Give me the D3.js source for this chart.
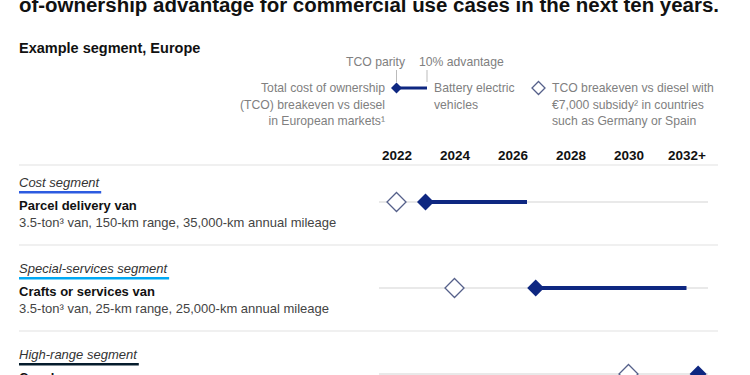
<!DOCTYPE html>
<html><head><meta charset="utf-8">
<script src="https://cdn.jsdelivr.net/npm/d3@7"></script>
<style>
html,body{margin:0;padding:0;background:#fff;}
svg{display:block;font-family:"Liberation Sans",Arial,sans-serif;}
</style></head>
<body>
<svg id="chart" width="750" height="375"></svg>
<script>
// ---- data ----
const tickYears = [2022, 2024, 2026, 2028, 2030, 2032];
const tickLabels = ["2022", "2024", "2026", "2028", "2030", "2032+"];
const segments = ["Cost segment", "Special-services segment", "High-range segment"];
const vehicles = ["Parcel delivery van", "Crafts or services van", "Coach"];
const descriptions = [
  "3.5-ton³ van, 150-km range, 35,000-km annual mileage",
  "3.5-ton³ van, 25-km range, 25,000-km annual mileage",
  ""
];
const subsidyBreakeven = [2022, 2024, 2030];
const tcoParity = [2023, 2026.8, 2032.4];
const advantage10 = [2026.5, 2032, null];
const segmentColors = ["#2c5be0", "#00a9f4", "#051c2c"];

// ---- layout ----
const svg = d3.select("#chart");
const navy = "#0e2781";
const x = d3.scaleLinear().domain([2022, 2032]).range([396.5, 686.5]);
const y = d3.scalePoint().domain(d3.range(segments.length)).range([202, 374]);

// Title (cut off at top, as in the reference)
svg.append("text").attr("x", 19).attr("y", 12)
  .attr("font-size", 20).attr("font-weight", "bold").attr("fill", "#111")
  .attr("textLength", 700).attr("lengthAdjust", "spacingAndGlyphs")
  .text("of-ownership advantage for commercial use cases in the next ten years.");

svg.append("text").attr("x", 19).attr("y", 53)
  .attr("font-size", 14.5).attr("font-weight", "bold").attr("fill", "#111")
  .text("Example segment, Europe");

// Legend
const lg = svg.append("g").attr("font-size", 12.2).attr("fill", "#808080");
lg.append("text").attr("x", 405).attr("y", 66).attr("text-anchor", "end").text("TCO parity");
lg.append("text").attr("x", 419).attr("y", 66).text("10% advantage");
lg.append("line").attr("x1", 396.5).attr("x2", 396.5).attr("y1", 70).attr("y2", 82).attr("stroke", "#bbb");
lg.append("line").attr("x1", 427).attr("x2", 427).attr("y1", 70).attr("y2", 82).attr("stroke", "#bbb");
lg.append("line").attr("x1", 398).attr("x2", 427).attr("y1", 88).attr("y2", 88).attr("stroke", navy).attr("stroke-width", 3);
lg.append("path").attr("d", "M396.5,82.5L402,88L396.5,93.5L391,88Z").attr("fill", navy);
["Total cost of ownership", "(TCO) breakeven vs diesel", "in European markets¹"].forEach((t, i) =>
  lg.append("text").attr("x", 385).attr("y", 92 + i * 16.5).attr("text-anchor", "end").text(t));
["Battery electric", "vehicles"].forEach((t, i) =>
  lg.append("text").attr("x", 434).attr("y", 92 + i * 16.5).text(t));
lg.append("path").attr("d", "M538.5,81.5L545,88L538.5,94.5L532,88Z")
  .attr("fill", "#fff").attr("stroke", "#55608a").attr("stroke-width", 1.3);
["TCO breakeven vs diesel with", "€7,000 subsidy² in countries", "such as Germany or Spain"].forEach((t, i) =>
  lg.append("text").attr("x", 552).attr("y", 92 + i * 16.5).text(t));

// Axis labels
const axis = d3.axisTop(x).tickValues(tickYears).tickFormat((d, i) => tickLabels[i]).tickSize(0).tickPadding(0);
const ag = svg.append("g").attr("transform", "translate(0,160)").call(axis);
ag.select(".domain").remove();
ag.selectAll("text").attr("font-size", 13.5).attr("font-weight", "bold").attr("fill", "#111")
  .attr("font-family", "Liberation Sans, Arial, sans-serif").attr("dy", 0);

// separators
const seps = [165, (y(0) + y(1)) / 2, (y(1) + y(2)) / 2];
svg.selectAll("line.sep").data(seps).enter().append("line").attr("class", "sep")
  .attr("x1", 19).attr("x2", 718).attr("y1", d => d).attr("y2", d => d)
  .attr("stroke", "#e2e2e2").attr("stroke-width", 1.2);

// rows
const rows = svg.selectAll("g.row").data(segments).enter().append("g").attr("class", "row");
rows.each(function(s, i) {
  const g = d3.select(this);
  const cy = y(i);
  const lab = g.append("text").attr("x", 19).attr("y", cy - 15)
    .attr("font-size", 13).attr("font-style", "italic").attr("fill", "#333").text(s);
  const w = lab.node().getComputedTextLength();
  g.append("rect").attr("x", 19).attr("y", cy - 11).attr("width", w + 2).attr("height", 2.5)
    .attr("fill", segmentColors[i]);
  g.append("text").attr("x", 19).attr("y", cy + 8).attr("font-size", 13)
    .attr("font-weight", "bold").attr("fill", "#111").text(vehicles[i]);
  g.append("text").attr("x", 19).attr("y", cy + 25).attr("font-size", 13)
    .attr("fill", "#444").text(descriptions[i]);
  // track
  g.append("line").attr("x1", 379).attr("x2", 708).attr("y1", cy).attr("y2", cy)
    .attr("stroke", "#d4d4d4").attr("stroke-width", 1.2);
  if (advantage10[i] != null) {
    g.append("line").attr("x1", x(tcoParity[i])).attr("x2", x(advantage10[i]))
      .attr("y1", cy).attr("y2", cy).attr("stroke", navy).attr("stroke-width", 4);
  }
  const so = 9.5;
  const sx = x(subsidyBreakeven[i]);
  g.append("path").attr("d", `M${sx},${cy - so}L${sx + so},${cy}L${sx},${cy + so}L${sx - so},${cy}Z`)
    .attr("fill", "#fff").attr("stroke", "#55608a").attr("stroke-width", 1.3);
  const fo = 8.5;
  const fx = x(tcoParity[i]);
  g.append("path").attr("d", `M${fx},${cy - fo}L${fx + fo},${cy}L${fx},${cy + fo}L${fx - fo},${cy}Z`)
    .attr("fill", navy);
});
</script>
</body></html>
